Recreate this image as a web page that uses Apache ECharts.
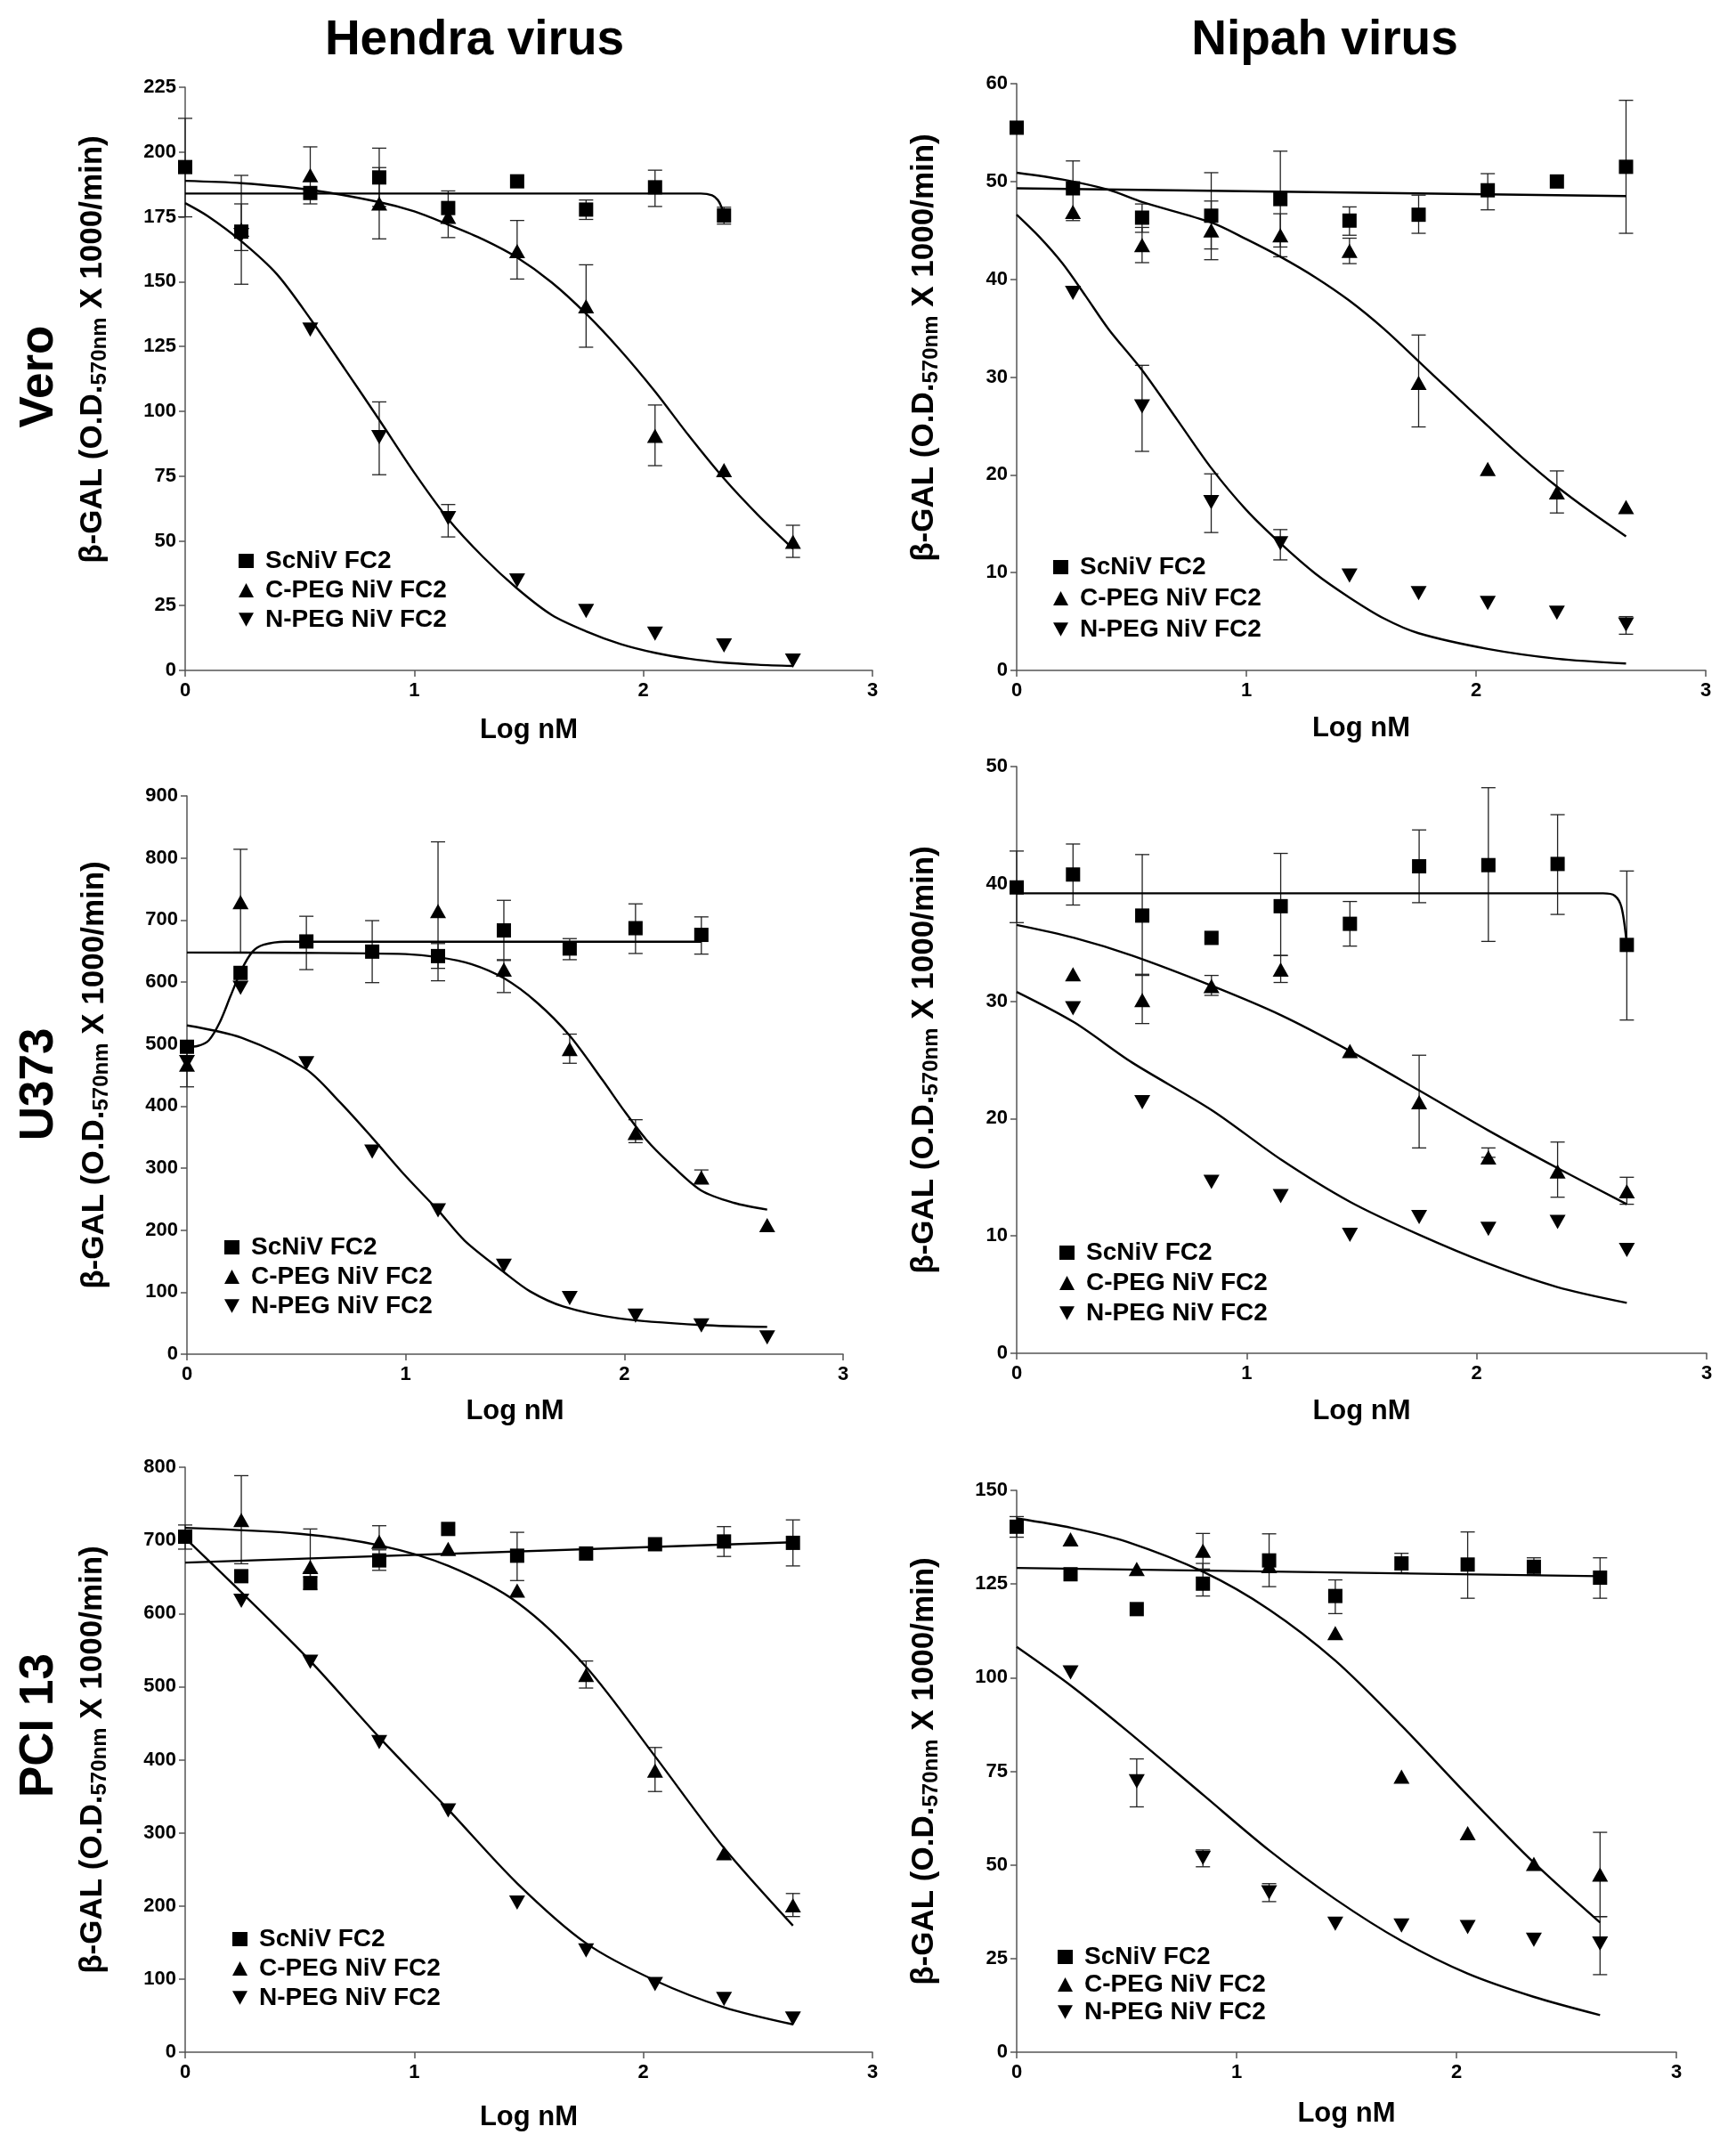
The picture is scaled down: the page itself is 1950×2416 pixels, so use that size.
<!DOCTYPE html>
<html>
<head>
<meta charset="utf-8">
<title>beta-GAL fusion, Hendra / Nipah</title>
<script src="https://cdn.jsdelivr.net/npm/echarts/dist/echarts.min.js"></script>
<style>
  html, body { margin: 0; padding: 0; background: #fff; }
  #main { width: 1950px; height: 2416px; }
</style>
</head>
<body>
<div id="main"></div>
<script>
// 浓度 (Log nM)
var logNM = [0, 0.245, 0.546, 0.847, 1.148, 1.449, 1.75, 2.051, 2.352, 2.653];
var seriesNames = ['ScNiV FC2', 'C-PEG NiV FC2', 'N-PEG NiV FC2'];
var colLabels = ['Hendra virus', 'Nipah virus'];
var rowLabels = ['Vero', 'U373', 'PCI 13'];
var yMax = [225, 60, 900, 50, 800, 150];
var yStep = [25, 10, 100, 10, 100, 25];

// Vero - Hendra
var veroHeSc = [194.2, 169.3, 184.2, 190.2, 178.4, 188.7, 177.8, 186.4, 175.5, null];
var veroHeCp = [null, 170, 191.1, 180.2, 175, 161.8, 140.5, 90.5, 77.3, 49.6];
var veroHeNp = [null, 168, 131.5, 90, 58.7, 34.7, 22.9, 14.2, 9.6, 3.8];
var veroHeErr = [[0, 175, 213], [0.245, 149, 191], [0.245, 162, 180], [0.546, 180, 202],
  [0.847, 179, 201.5], [0.847, 166.5, 194], [1.148, 167, 185], [1.449, 151, 173.6],
  [1.75, 174, 181.5], [1.75, 124.7, 156.5], [2.051, 179, 193], [2.051, 79, 102.4],
  [2.352, 172.2, 178.7], [2.653, 43.6, 56], [0.847, 75.5, 103.6], [1.148, 51.5, 64]];
var veroHeFitSc = [[0, 184], [1, 184], [2.25, 184], [2.3, 183.3], [2.325, 181.5], [2.34, 179], [2.352, 175.5]];
var veroHeFitCp = [[0, 188.9], [0.245, 188], [0.546, 185.4], [0.847, 180.7], [1, 177.1], [1.148, 172], [1.3, 166.3], [1.449, 159.3], [1.6, 149.7], [1.75, 137.6], [1.9, 123.5], [2.051, 107.6], [2.2, 90.4], [2.352, 74], [2.5, 60], [2.653, 47]];
var veroHeFitNp = [[0, 180.3], [0.1, 175.2], [0.245, 165.6], [0.4, 152.9], [0.546, 135.7], [0.7, 115.9], [0.847, 96.7], [1, 76.3], [1.148, 58.4], [1.3, 43.8], [1.449, 31.6], [1.6, 21.4], [1.75, 15.1], [1.9, 10.2], [2.051, 6.8], [2.2, 4.5], [2.352, 3], [2.5, 2.2], [2.653, 1.7]];

// Vero - Nipah
var veroNiSc = [55.5, 49.3, 46.3, 46.5, 48.2, 46, 46.6, 49.1, 50.0, 51.5];
var veroNiCp = [null, 46.9, 43.5, 45, 44.5, 42.9, 29.4, 20.6, 18.2, 16.7];
var veroNiNp = [null, 38.6, 27, 17.2, 13, 9.7, 7.9, 6.9, 5.9, 4.7];
var veroNiErr = [[0.245, 46, 52.1], [0.546, 44.8, 47.7], [0.546, 41.7, 45.3], [0.847, 43.1, 50.9],
  [0.847, 42, 48], [1.148, 43.3, 53.1], [1.148, 42.3, 46.7], [1.449, 44.5, 47.4], [1.449, 41.6, 44.2],
  [1.75, 44.7, 48.6], [1.75, 24.9, 34.3], [2.051, 47.1, 50.8], [2.352, 16.1, 20.4], [2.653, 44.7, 58.3],
  [0.546, 22.4, 31.2], [0.847, 14.1, 20.1], [1.148, 11.3, 14.4], [2.653, 3.7, 5.5]];
var veroNiFitSc = [[0, 49.3], [2.653, 48.5]];
var veroNiFitCp = [[0, 50.9], [0.2, 50.2], [0.4, 49.15], [0.546, 47.9], [0.847, 45.8], [1, 44.1], [1.148, 42.3], [1.3, 40.2], [1.449, 37.8], [1.6, 34.9], [1.75, 31.6], [1.9, 28.3], [2.051, 25], [2.2, 21.8], [2.352, 18.8], [2.5, 16.2], [2.653, 13.7]];
var veroNiFitNp = [[0, 46.6], [0.1, 44.3], [0.2, 41.6], [0.3, 38.3], [0.4, 34.9], [0.546, 30.7], [0.7, 25.6], [0.847, 20.7], [1, 16.4], [1.148, 13], [1.3, 9.9], [1.449, 7.45], [1.6, 5.3], [1.75, 3.8], [2.051, 2.2], [2.352, 1.2], [2.653, 0.7]];

// U373 - Hendra
var u373HeSc = [495.6, 614.7, 665.4, 649, 641.8, 683.2, 654, 686.8, 676, null];
var u373HeCp = [467, 728.8, null, null, 714.6, 620, 492, 356.6, 285, 208];
var u373HeNp = [470.7, 590.5, 469, 326.6, 231.8, 142.6, 90.6, 62, 46.4, 27];
var u373HeErr = [[0, 431, 503], [0.245, 648, 814], [0.546, 620, 706], [0.847, 599, 699],
  [1.148, 602, 826], [1.148, 622, 662], [1.449, 634.7, 731.7], [1.449, 583, 636], [1.75, 636, 670],
  [1.75, 469, 516], [2.051, 646, 726], [2.051, 341, 378], [2.352, 645, 705], [2.352, 275, 297]];
var u373HeFitSc = [[0, 495.6], [0.05, 497], [0.1, 506], [0.15, 535], [0.2, 578], [0.25, 620], [0.3, 649], [0.35, 660], [0.45, 665], [1, 665], [2.352, 665]];
var u373HeFitCp = [[0, 647.5], [0.5, 647], [1, 645], [1.15, 640], [1.3, 629], [1.45, 606], [1.6, 567], [1.75, 513.5], [1.9, 442], [2, 392], [2.1, 346], [2.2, 310], [2.35, 264], [2.5, 244], [2.653, 233]];
var u373HeFitNp = [[0, 530], [0.25, 510], [0.542, 460], [0.7, 406], [0.847, 349], [1, 287], [1.148, 232], [1.27, 183], [1.45, 132], [1.57, 101], [1.72, 77], [1.97, 58], [2.35, 47], [2.653, 44]];

// U373 - Nipah
var u373NiSc = [39.7, 40.8, 37.3, 35.4, 38.1, 36.6, 41.5, 41.6, 41.7, 34.8];
var u373NiCp = [null, 32.3, 30.1, 31.3, 32.7, 25.75, 21.4, 16.7, 15.5, 13.8];
var u373NiNp = [null, 29.4, 21.4, 14.6, 13.4, 10.1, 11.6, 10.6, 11.2, 8.8];
var u373NiErr = [[0, 36.7, 42.8], [0.245, 38.2, 43.4], [0.546, 32.2, 42.5], [0.546, 28.1, 32.3],
  [0.847, 30.5, 32.2], [1.148, 33.9, 42.6], [1.148, 31.6, 33.9], [1.449, 34.7, 38.5], [1.75, 38.4, 44.6],
  [1.75, 17.5, 25.4], [2.051, 35.1, 48.2], [2.051, 16.7, 17.5], [2.352, 37.4, 45.9], [2.352, 13.3, 18],
  [2.653, 28.4, 41.1], [2.653, 12.7, 15]];
var u373NiFitSc = [[0, 39.2], [2.55, 39.2], [2.6, 39], [2.63, 38], [2.653, 34.8]];
var u373NiFitCp = [[0, 36.5], [0.25, 35.4], [0.5, 33.9], [0.85, 31.3], [1.15, 28.8], [1.45, 25.75], [1.75, 22.4], [2.05, 19], [2.35, 15.8], [2.653, 12.7]];
var u373NiFitNp = [[0, 30.8], [0.25, 28.2], [0.5, 24.8], [0.85, 20.7], [1.15, 16.5], [1.45, 12.9], [1.75, 10.1], [2.05, 7.65], [2.35, 5.65], [2.653, 4.3]];

// PCI 13 - Hendra
var pciHeSc = [705, 651, 641.5, 672.6, 715.6, 679, 682, 694.7, 698.5, 696.6];
var pciHeCp = [null, 728, 663.7, 697.9, 688.4, 631.4, 516, 385, 272, 201];
var pciHeNp = [null, 617.5, 534, 424, 330.6, 204.6, 139, 93, 72.8, 46];
var pciHeErr = [[0, 688, 721], [0.245, 668, 788.5], [0.546, 633, 656.7], [0.546, 650, 715.6],
  [0.847, 659, 687], [0.847, 690, 720], [1.449, 645, 711], [1.75, 498, 535], [2.051, 356.5, 416.7],
  [2.352, 678, 718.8], [2.653, 665, 728], [2.653, 185.5, 217]];
var pciHeFitSc = [[0, 669.5], [2.653, 697.5]];
var pciHeFitCp = [[0, 717], [0.5, 709], [0.85, 693], [1.15, 665], [1.45, 615], [1.75, 527], [2.05, 405], [2.35, 280], [2.653, 173]];
var pciHeFitNp = [[0, 703], [0.245, 629], [0.546, 535], [0.847, 430.6], [1.148, 332], [1.449, 231], [1.75, 149], [2.051, 98], [2.352, 61.4], [2.653, 38]];

// PCI 13 - Nipah
var pciNiSc = [140.3, 127.6, 118.3, 125.1, 131.3, 121.8, 130.5, 130.2, 129.6, 126.7];
var pciNiCp = [null, 136.9, 129, 133.9, 129.8, 111.9, 73.6, 58.5, 50.3, 47.4];
var pciNiNp = [null, 101.4, 72.3, 51.9, 42.7, 34.3, 33.8, 33.4, 30, 29];
var pciNiErr = [[0, 137.5, 143], [0.847, 121.8, 130.5], [0.847, 129, 138.5], [1.148, 124.3, 138.4],
  [1.449, 117.1, 126.1], [1.75, 128, 133.2], [2.051, 121.2, 138.9], [2.352, 127.5, 132],
  [2.653, 121.2, 132], [2.653, 36.2, 58.7], [0.546, 65.5, 78.3], [0.847, 49.5, 54], [1.148, 40.2, 45],
  [2.653, 20.7, 36.2]];
var pciNiFitSc = [[0, 129.3], [2.653, 127.1]];
var pciNiFitCp = [[0, 142.5], [0.25, 140], [0.5, 136.3], [0.85, 128.2], [1.15, 118.1], [1.45, 104.5], [1.75, 87.2], [2.05, 68.6], [2.35, 50.7], [2.653, 34.6]];
var pciNiFitNp = [[0, 108.2], [0.25, 97.7], [0.5, 85.9], [0.85, 68.6], [1.15, 53.8], [1.45, 40.8], [1.75, 29.7], [2.05, 21], [2.35, 14.8], [2.653, 9.9]];

var points = [
  [veroHeSc, veroHeCp, veroHeNp], [veroNiSc, veroNiCp, veroNiNp],
  [u373HeSc, u373HeCp, u373HeNp], [u373NiSc, u373NiCp, u373NiNp],
  [pciHeSc, pciHeCp, pciHeNp], [pciNiSc, pciNiCp, pciNiNp]
];
var fits = [
  [veroHeFitSc, veroHeFitCp, veroHeFitNp], [veroNiFitSc, veroNiFitCp, veroNiFitNp],
  [u373HeFitSc, u373HeFitCp, u373HeFitNp], [u373NiFitSc, u373NiFitCp, u373NiFitNp],
  [pciHeFitSc, pciHeFitCp, pciHeFitNp], [pciNiFitSc, pciNiFitCp, pciNiFitNp]
];
var errs = [veroHeErr, veroNiErr, u373HeErr, u373NiErr, pciHeErr, pciNiErr];

// 版面位置 (px)
var layout = [
  { left: 208, top: 98, width: 772, height: 655, legL: 268, legT: 616, legGap: 5, xGap: 52, yPad: 66 },
  { left: 1142, top: 94, width: 774, height: 659, legL: 1183, legT: 623, legGap: 7, xGap: 50, yPad: 66 },
  { left: 210, top: 894, width: 737, height: 627, legL: 252, legT: 1387, legGap: 5, xGap: 49, yPad: 0 },
  { left: 1142, top: 861, width: 775, height: 659, legL: 1190, legT: 1393, legGap: 6, xGap: 50, yPad: 0 },
  { left: 208, top: 1648, width: 772, height: 657, legL: 261, legT: 2164, legGap: 5, xGap: 58, yPad: 0 },
  { left: 1142, top: 1674, width: 741, height: 631, legL: 1188, legT: 2184, legGap: 3, xGap: 54, yPad: 0 }
];

var font = 'Liberation Sans, Arial, Helvetica, sans-serif';
var symbols = ['rect', 'triangle', 'path://M0,0L10,0L5,9Z'];
var symbolSizes = [16, [18, 16], [18, 16]];

//误差线
function renderErr(params, api) {
  var x = api.value(0);
  var lo = api.coord([x, api.value(1)]);
  var hi = api.coord([x, api.value(2)]);
  var w = 8;
  var st = { stroke: '#222', lineWidth: 1.3 };
  return {
    type: 'group',
    children: [
      { type: 'line', shape: { x1: lo[0], y1: lo[1], x2: hi[0], y2: hi[1] }, style: st },
      { type: 'line', shape: { x1: lo[0] - w, y1: lo[1], x2: lo[0] + w, y2: lo[1] }, style: st },
      { type: 'line', shape: { x1: hi[0] - w, y1: hi[1], x2: hi[0] + w, y2: hi[1] }, style: st }
    ]
  };
}

function toPairs(ys) {
  var out = [];
  for (var i = 0; i < logNM.length; i++) {
    if (ys[i] !== null) out.push([logNM[i], ys[i]]);
  }
  return out;
}

//渲染六个小图
function renderPanels() {
  var myChart = echarts.init(document.getElementById('main'), null, { renderer: 'canvas' });
  var grids = [], xAxes = [], yAxes = [], legends = [], series = [];

  for (var p = 0; p < 6; p++) {
    var L = layout[p];
    grids.push({ left: L.left, top: L.top, width: L.width, height: L.height, containLabel: false });
    xAxes.push({
      type: 'value', gridIndex: p, min: 0, max: 3, interval: 1,
      name: 'Log nM', nameLocation: 'middle', nameGap: L.xGap,
      nameTextStyle: { fontFamily: font, fontWeight: 'bold', fontSize: 31, color: '#000' },
      axisLine: { show: true, onZero: false, lineStyle: { color: '#555', width: 1.5 } },
      axisTick: { show: true, length: 7, lineStyle: { color: '#555', width: 1.5 } },
      axisLabel: { fontFamily: font, fontWeight: 'bold', fontSize: 22, color: '#000', margin: 12 },
      splitLine: { show: false }
    });
    yAxes.push({
      type: 'value', gridIndex: p, min: 0, max: yMax[p], interval: yStep[p],
      name: '{a|β-GAL (O.D.}{s|570nm}{a| X 1000/min)}',
      nameLocation: 'middle', nameRotate: 90, nameGap: 84,
      nameTextStyle: {
        padding: [0, 0, 0, L.yPad],
        rich: {
          a: { fontFamily: font, fontWeight: 'bold', fontSize: 35, color: '#000', lineHeight: 40 },
          s: { fontFamily: font, fontWeight: 'bold', fontSize: 24, color: '#000', verticalAlign: 'bottom', lineHeight: 34 }
        }
      },
      axisLine: { show: true, onZero: false, lineStyle: { color: '#555', width: 1.5 } },
      axisTick: { show: true, length: 7, lineStyle: { color: '#555', width: 1.5 } },
      axisLabel: { fontFamily: font, fontWeight: 'bold', fontSize: 22, color: '#000', margin: 10 },
      splitLine: { show: false }
    });
    legends.push({
      orient: 'vertical', left: L.legL, top: L.legT, itemGap: L.legGap,
      itemWidth: 17, itemHeight: 16, padding: 0, selectedMode: false,
      data: seriesNames,
      textStyle: { fontFamily: font, fontWeight: 'bold', fontSize: 28, color: '#000', padding: [0, 0, 0, 8] }
    });

    series.push({
      type: 'custom', name: 'err' + p, xAxisIndex: p, yAxisIndex: p,
      data: errs[p], encode: { x: 0, y: [1, 2] }, renderItem: renderErr, z: 2, silent: true
    });
    for (var s = 0; s < 3; s++) {
      series.push({
        type: 'line', name: 'fit' + p + '_' + s, xAxisIndex: p, yAxisIndex: p,
        data: fits[p][s], smooth: 0.3, showSymbol: false, symbol: 'none',
        lineStyle: { color: '#000', width: 2.4 }, z: 3, silent: true
      });
    }
    for (var k = 0; k < 3; k++) {
      series.push({
        type: 'scatter', name: seriesNames[k], xAxisIndex: p, yAxisIndex: p,
        symbol: symbols[k], symbolSize: symbolSizes[k], data: toPairs(points[p][k]),
        itemStyle: { color: '#000', opacity: 1 }, z: 4, silent: true
      });
    }
  }

  var textBase = { fontFamily: font, fontWeight: 'bold', fill: '#000', align: 'center', verticalAlign: 'middle' };
  var graphics = [
    { type: 'text', x: 533, y: 46, style: Object.assign({ text: colLabels[0], fontSize: 55 }, textBase) },
    { type: 'text', x: 1488, y: 46, style: Object.assign({ text: colLabels[1], fontSize: 55 }, textBase) },
    { type: 'text', x: 44, y: 423, rotation: Math.PI / 2, style: Object.assign({ text: rowLabels[0], fontSize: 53 }, textBase) },
    { type: 'text', x: 44, y: 1218, rotation: Math.PI / 2, style: Object.assign({ text: rowLabels[1], fontSize: 53 }, textBase) },
    { type: 'text', x: 44, y: 1938, rotation: Math.PI / 2, style: Object.assign({ text: rowLabels[2], fontSize: 53 }, textBase) }
  ];

  var options = {
    backgroundColor: '#fff',
    animation: false,
    grid: grids,
    xAxis: xAxes,
    yAxis: yAxes,
    legend: legends,
    graphic: graphics,
    series: series
  };
  myChart.setOption(options, true);
}

renderPanels();
</script>
</body>
</html>
